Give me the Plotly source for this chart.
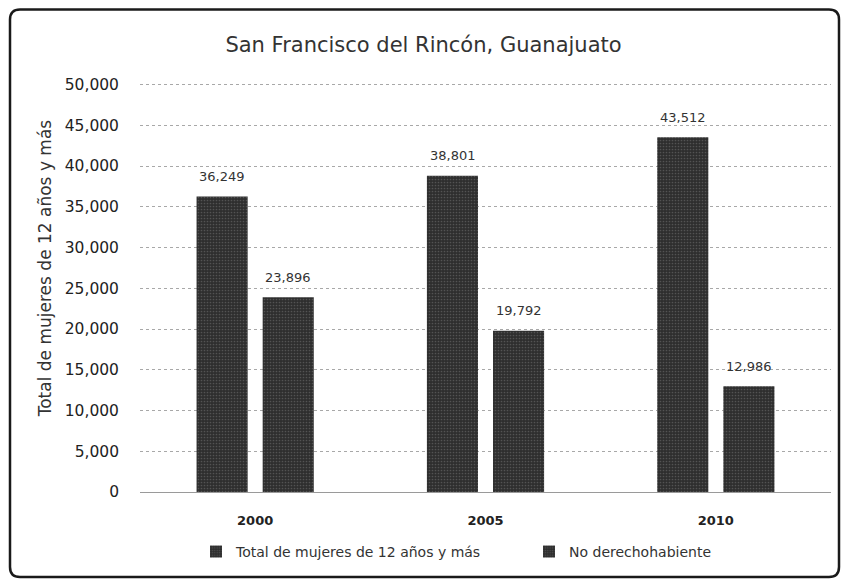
import plotly.graph_objects as go

years = ["2000", "2005", "2010"]
total_mujeres = [36249, 38801, 43512]
no_derecho = [23896, 19792, 12986]
series_names = ["Total de mujeres de 12 años y más", "No derechohabiente"]
y_ticks = [0, 5000, 10000, 15000, 20000, 25000, 30000, 35000, 40000, 45000, 50000]
y_ticktext = [f"{v:,}" for v in y_ticks]
y_title = "Total de mujeres de 12 años y más"

FONT = "DejaVu Sans"
bar_color = "#2e2e2e"

W, H = 847, 582
ML, MR, MT, MB = 140, 16, 81.5, 90
Y_MAX = 50000 * (H - MB - MT) / 408.0  # keeps 50,000 at the same pixel row, with room for its gridline

fig = go.Figure()
for name, vals in zip(series_names, [total_mujeres, no_derecho]):
    fig.add_trace(go.Bar(
        x=years, y=vals, name=name,
        marker=dict(color=bar_color, line=dict(width=0),
                    pattern=dict(shape=".", fgcolor="#777777", bgcolor=bar_color, size=3, solidity=0.25)),
        cliponaxis=False,
    ))

# data labels, placed at each bar's value (category index) with the group offset
annotations = []
for shift, vals in zip([-33, 33], [total_mujeres, no_derecho]):
    for i, v in enumerate(vals):
        annotations.append(dict(x=i, y=v, xref="x", yref="y", text=f"{v:,}", showarrow=False,
                                xshift=shift, yshift=20, yanchor="middle",
                                font=dict(family=FONT, size=13, color="#333333")))

pw = W - ML - MR
ph = H - MT - MB
def px(x):
    return (x - ML) / pw
def py(y):
    return (H - MB - y) / ph

annotations.append(dict(x=px(45), y=py(268), xref="paper", yref="paper", text=y_title,
                        showarrow=False, textangle=-90, xanchor="center", yanchor="middle",
                        font=dict(family=FONT, size=17, color="#333333")))

x0, x1, y0, y1, r = 10, 839, 9, 577, 10
path = (f"M {px(x0+r)},{py(y0)} L {px(x1-r)},{py(y0)} Q {px(x1)},{py(y0)} {px(x1)},{py(y0+r)} "
        f"L {px(x1)},{py(y1-r)} Q {px(x1)},{py(y1)} {px(x1-r)},{py(y1)} "
        f"L {px(x0+r)},{py(y1)} Q {px(x0)},{py(y1)} {px(x0)},{py(y1-r)} "
        f"L {px(x0)},{py(y0+r)} Q {px(x0)},{py(y0)} {px(x0+r)},{py(y0)} Z")

fig.update_layout(
    width=W, height=H,
    paper_bgcolor="white", plot_bgcolor="white",
    margin=dict(l=ML, r=MR, t=MT, b=MB, autoexpand=False),
    barmode="group", bargap=0.426, bargroupgap=0.227,
    title=dict(text="San Francisco del Rincón, Guanajuato", x=0.5, xanchor="center",
               y=1 - 45 / H, yanchor="middle",
               font=dict(family=FONT, size=21, color="#333333")),
    font=dict(family=FONT, color="#333333"),
    showlegend=True,
    legend=dict(orientation="h", x=px(196), xanchor="left", y=py(552), yanchor="middle",
                bgcolor="rgba(0,0,0,0)",
                font=dict(family=FONT, size=14, color="#333333"),
                itemwidth=30, entrywidth=288, entrywidthmode="pixels", traceorder="normal"),
    annotations=annotations,
    shapes=[dict(type="path", xref="paper", yref="paper", path=path,
                 line=dict(color="#1a1a1a", width=2.5), layer="above")],
)

fig.update_yaxes(range=[0, Y_MAX], tickvals=y_ticks, ticktext=y_ticktext,
                 showgrid=True, gridcolor="#a8a8a8", griddash="dot", gridwidth=1,
                 zeroline=False, showline=False, ticks="", ticklabelstandoff=20,
                 tickfont=dict(family=FONT, size=15.5, color="#222222"))
fig.update_xaxes(type="category", range=[-0.5, len(years) - 0.5],
                 showline=True, linecolor="#9a9a9a", linewidth=1, ticks="",
                 ticklabelstandoff=16,
                 tickfont=dict(family=FONT, size=13, color="#222222", weight="bold"))

fig.write_html("out.html", config={"displayModeBar": False},
               post_script="document.body.style.margin='0';document.body.style.overflow='hidden';")
